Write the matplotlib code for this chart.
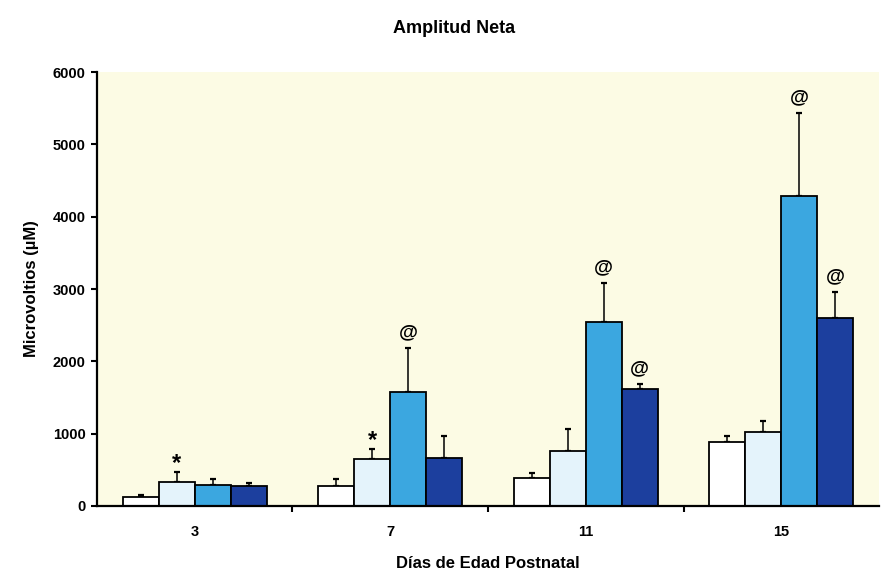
import matplotlib
matplotlib.use("Agg")
import matplotlib.pyplot as plt
import numpy as np

plt.rcParams["font.family"] = ["Liberation Sans", "DejaVu Sans"]

days = ["3", "7", "11", "15"]
# four groups per day (white, light blue, blue, dark blue)
means = [
    [125, 275, 385, 885],
    [330, 650, 760, 1020],
    [290, 1575, 2545, 4290],
    [275, 665, 1620, 2600],
]
errors = [
    [25, 100, 75, 80],
    [140, 140, 305, 155],
    [80, 615, 540, 1145],
    [45, 305, 70, 360],
]
# significance marks: (series, day index, symbol)
marks = [
    (1, 0, "*"), (1, 1, "*"),
    (2, 1, "@"), (2, 2, "@"), (2, 3, "@"),
    (3, 2, "@"), (3, 3, "@"),
]
colors = ["#ffffff", "#e4f3fb", "#3ba7e0", "#1c3f9e"]

fig = plt.figure(figsize=(8.81, 5.74), dpi=100)
ax = fig.add_axes([0.110, 0.1185, 0.888, 0.756])
ax.set_facecolor("#fcfbe4")

x = np.arange(len(days))
width = 0.184
offsets = (np.arange(4) - 1.5) * width
for i in range(4):
    ax.bar(x + offsets[i], means[i], width, color=colors[i], edgecolor="black",
           linewidth=1.3, zorder=2)
    ax.errorbar(x + offsets[i], means[i], yerr=[np.zeros(4), errors[i]], fmt="none",
                ecolor="black", elinewidth=1.1, capsize=2.5, capthick=1.6, zorder=1)

for s, d, sym in marks:
    top = means[s][d] + errors[s][d]
    if sym == "*":
        ax.text(x[d] + offsets[s], top - 40, sym, ha="center", va="bottom",
                fontsize=17, fontweight="bold")
    else:
        ax.text(x[d] + offsets[s], top + 90, sym, ha="center", va="bottom",
                fontsize=14, fontweight="bold")

ax.set_xlim(-0.5, 3.5)
ax.set_ylim(0, 6000)
ax.set_yticks(range(0, 6001, 1000))
ax.set_xticks(x)
ax.set_xticklabels(days)
ax.set_xticks(x[:-1] + 0.5, minor=True)
ax.tick_params(axis="x", which="major", length=0, pad=14)
ax.tick_params(axis="x", which="minor", length=4, width=1.5)
ax.tick_params(axis="y", length=4, width=1.5, pad=4)
for lab in ax.get_xticklabels() + ax.get_yticklabels():
    lab.set_fontweight("bold")
    lab.set_fontsize(10.5)

ax.spines["top"].set_visible(False)
ax.spines["right"].set_visible(False)
ax.spines["left"].set_linewidth(1.6)
ax.spines["bottom"].set_linewidth(1.6)

ax.set_ylabel("Microvoltios (µM)", fontsize=12, fontweight="bold", labelpad=10)
ax.set_xlabel("Días de Edad Postnatal", fontsize=12, fontweight="bold", labelpad=12)
fig.text(0.515, 0.950, "Amplitud Neta", ha="center", va="center", fontsize=13,
         fontweight="bold")

fig.savefig("out.png", dpi=100)
